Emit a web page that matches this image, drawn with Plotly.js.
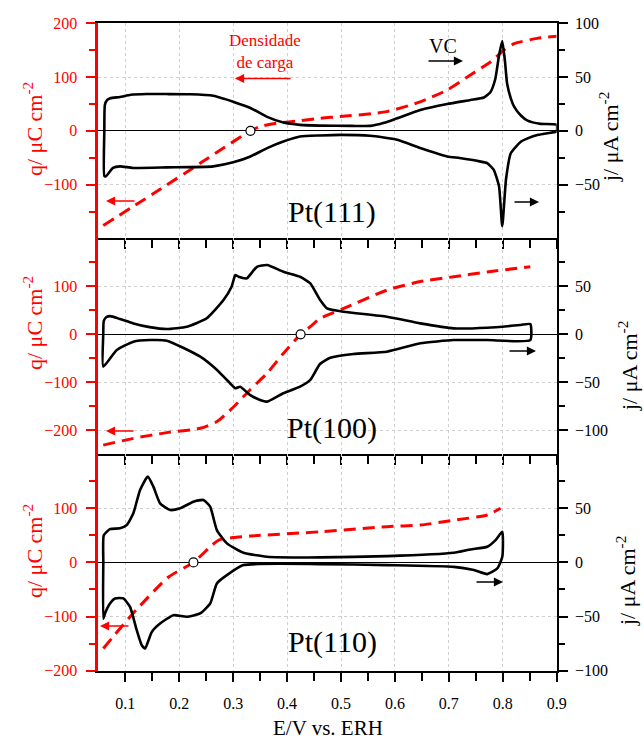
<!DOCTYPE html>
<html>
<head>
<meta charset="utf-8">
<script src="https://cdn.plot.ly/plotly-3.0.1.min.js"></script>
<style>html,body{margin:0;padding:0;background:#fff}#chart{width:644px;height:740px}</style>
</head>
<body>
<div id="chart"></div>
<script>
// ---------- DATA ----------
// Pt(111) voltammogram (closed loop: anodic then cathodic), j / µA cm^-2
const E111 = [0.061,0.061,0.062,0.066,0.072,0.09,0.11,0.14,0.177,0.22,0.263,0.285,0.30,0.332,0.363,0.393,0.424,0.461,0.52,0.554,0.58,0.604,0.647,0.697,0.74,0.765,0.777,0.786,0.793,0.799,0.804,0.808,0.815,0.821,0.834,0.846,0.87,0.9,
              0.9,0.885,0.866,0.846,0.834,0.815,0.806,0.799,0.793,0.783,0.771,0.757,0.72,0.697,0.647,0.604,0.554,0.5,0.461,0.424,0.393,0.363,0.332,0.30,0.263,0.177,0.114,0.09,0.077,0.064,0.061];
const J111 = [-42,0,24,28.5,30.3,31.5,33.5,34.2,34.2,34,32.7,29.5,27,21.3,13,7.7,5.6,4.9,4.6,4.6,7.5,11.7,19.4,25,28.7,31,36,48,70,83.6,65,44,30,22.5,14,9.5,6.5,5.6,
              -0.5,-2,-3.7,-7,-9.9,-20.6,-45,-88.6,-51.6,-36,-30,-28.4,-25.3,-23.8,-16,-8.3,-4.6,-3.7,-4.3,-5.3,-9.9,-16,-23.8,-29.3,-33,-34,-34.5,-33,-34.5,-42.3,-42];
// Pt(111) charge density, q / µC cm^-2
const E111q = [0.059,0.15,0.25,0.332,0.35,0.38,0.424,0.461,0.498,0.585,0.647,0.697,0.74,0.777,0.802,0.821,0.864,0.9];
const Q111  = [-176,-118,-53,0,8,14,19,23.5,26.5,35.7,54,76,104,128,150,162,172,176];

// Pt(100)
const E100 = [0.059,0.059,0.06,0.065,0.072,0.09,0.115,0.145,0.177,0.214,0.251,0.282,0.297,0.304,0.310,0.325,0.344,0.363,0.393,0.424,0.443,0.461,0.474,0.505,0.585,0.647,0.709,0.771,0.833,0.851,
              0.851,0.771,0.709,0.647,0.585,0.523,0.48,0.461,0.443,0.424,0.393,0.363,0.350,0.331,0.313,0.304,0.294,0.270,0.239,0.177,0.146,0.115,0.084,0.059];
const J100 = [-33.7,0,14,18,19,16,11.4,7.5,5.5,7.9,16.7,35.7,49.6,61.8,60,58.3,70.4,72.2,65.2,60,53.1,36,27,23.5,18.3,11.4,6.2,6.9,9.7,10.7,
              -6,-6,-6,-9.4,-18.1,-20.5,-24.5,-31,-47.6,-54.6,-61.5,-70.2,-68.4,-63.2,-54.6,-56.3,-51,-37.2,-23.3,-6.6,-6,-7.7,-16.4,-33.7];
const E100q = [0.059,0.115,0.177,0.239,0.270,0.301,0.331,0.363,0.393,0.425,0.443,0.461,0.505,0.585,0.647,0.709,0.771,0.851];
const Q100  = [-231,-217,-205,-196,-182,-151,-116,-81,-40,0,16,33,54,92,110,120,130,141];

// Pt(110)
const E110 = [0.0591,0.0591,0.060,0.0715,0.0901,0.1026,0.1148,0.1273,0.1416,0.152,0.1644,0.183,0.2016,0.2263,0.2448,0.2573,0.2697,0.2883,0.3191,0.3626,0.4616,0.5855,0.7092,0.740,0.7712,0.7866,0.7991,
              0.7991,0.7898,0.7712,0.7464,0.7092,0.5855,0.4616,0.3191,0.2883,0.2697,0.2573,0.2387,0.2139,0.189,0.1644,0.149,0.1366,0.1304,0.1211,0.1087,0.0963,0.0808,0.0715,0.0622,0.0591];
const J110 = [-52,0,25,30.8,31.5,34.5,45.4,67,79.3,70,54.6,48.4,50,56.1,57.7,51.5,29.9,17.6,8.9,5.2,4.6,5.8,8.9,12,14.5,20.6,28.3,
              5.2,-5.6,-10.8,-7.1,-4.1,-2.5,-1.6,-2.5,-11.8,-19.4,-38,-47.2,-50.3,-48.8,-56.5,-64.3,-79.6,-76.6,-62.7,-41.1,-33.3,-33.3,-38,-47.2,-52];
const E110q = [0.0591,0.12,0.18,0.2263,0.262,0.275,0.30,0.3316,0.4616,0.5855,0.647,0.7092,0.7712,0.7959];
const Q110  = [-159,-88,-27,0,33,42,46,48.7,56.7,66,69,78,87.6,100];

// potentials of zero charge (open circles), one per panel: 111, 100, 110
const pzcE = [0.332, 0.425, 0.2263];
const pzcQ = [0, 0, 0];

const panelLabels = ['Pt(111)', 'Pt(100)', 'Pt(110)'];
const xTickVals = [0.1,0.2,0.3,0.4,0.5,0.6,0.7,0.8,0.9];
const xTickText = ['0.1','0.2','0.3','0.4','0.5','0.6','0.7','0.8','0.9'];
const xMinorVals = [0.15,0.25,0.35,0.45,0.55,0.65,0.75,0.85];

// ---------- LAYOUT ----------
const W = 644, H = 740;
const FONT = '"Liberation Serif", "Times New Roman", serif';
const RED = '#ff0000';
const px = v => v / W;
const py = v => 1 - v / H;
const xDom = [px(98.4), px(556.7)];
const dom1 = [py(238.4), py(23.3)];
const dom2 = [py(454.2), py(238.4)];
const dom3 = [py(670.6), py(454.2)];

function xAxis(anchor, showLabels, mirror) {
  return {
    domain: xDom, anchor: anchor, range: [0.05, 0.9],
    showline: true, linecolor: '#000', linewidth: 2, mirror: mirror,
    ticks: 'outside', ticklen: 9, tickwidth: 2, tickcolor: '#000',
    tickmode: 'array', tickvals: xTickVals, ticktext: xTickText,
    showticklabels: showLabels, ticklabelstandoff: 8,
    tickfont: {family: FONT, size: 16, color: '#000'},
    showgrid: true, gridcolor: '#cfcfcf', griddash: 'dot', gridwidth: 1,
    zeroline: false,
    minor: {tickmode: 'array', tickvals: xMinorVals, ticks: 'outside', ticklen: 8, tickwidth: 2, tickcolor: '#000', showgrid: false}
  };
}
function leftAxis(anchorX, dom, range, tv, mv) {
  return {
    domain: dom, anchor: anchorX, range: range, side: 'left',
    showline: true, linecolor: RED, linewidth: 3,
    ticks: 'outside', ticklen: 9, tickwidth: 2, tickcolor: RED,
    tickmode: 'array', tickvals: tv, ticklabelstandoff: 6,
    tickfont: {family: FONT, size: 16, color: RED},
    showgrid: true, gridcolor: '#cfcfcf', griddash: 'dot', gridwidth: 1,
    zeroline: true, zerolinecolor: '#000', zerolinewidth: 1.2,
    minor: {tickmode: 'array', tickvals: mv, ticks: 'outside', ticklen: 6, tickwidth: 2, tickcolor: RED, showgrid: false}
  };
}
function rightAxis(anchorX, over, range, tv, mv) {
  return {
    overlaying: over, anchor: anchorX, range: range, side: 'right',
    showline: true, linecolor: '#000', linewidth: 2,
    ticks: 'outside', ticklen: 9, tickwidth: 2, tickcolor: '#000',
    tickmode: 'array', tickvals: tv, ticklabelstandoff: 4,
    tickfont: {family: FONT, size: 16, color: '#000'},
    showgrid: false, zeroline: false,
    minor: {tickmode: 'array', tickvals: mv, ticks: 'outside', ticklen: 6, tickwidth: 2, tickcolor: '#000', showgrid: false}
  };
}

const blackLine = {color: '#000', width: 2.6, shape: 'spline', smoothing: 0.5};
const redLine = {color: RED, width: 3, dash: '12px,7px', shape: 'spline', smoothing: 0.6};
const circ = {size: 9, color: '#fff', line: {color: '#000', width: 1.2}};

const data = [
  {x: E111q, y: Q111, xaxis: 'x', yaxis: 'y', mode: 'lines', line: redLine, hoverinfo: 'skip'},
  {x: E111, y: J111, xaxis: 'x', yaxis: 'y2', mode: 'lines', line: blackLine, hoverinfo: 'skip'},
  {x: [pzcE[0]], y: [pzcQ[0]], xaxis: 'x', yaxis: 'y2', mode: 'markers', marker: circ, hoverinfo: 'skip'},

  {x: E100q, y: Q100, xaxis: 'x2', yaxis: 'y3', mode: 'lines', line: redLine, hoverinfo: 'skip'},
  {x: E100, y: J100, xaxis: 'x2', yaxis: 'y4', mode: 'lines', line: blackLine, hoverinfo: 'skip'},
  {x: [pzcE[1]], y: [pzcQ[1]], xaxis: 'x2', yaxis: 'y4', mode: 'markers', marker: circ, hoverinfo: 'skip'},

  {x: E110q, y: Q110, xaxis: 'x3', yaxis: 'y5', mode: 'lines', line: redLine, hoverinfo: 'skip'},
  {x: E110, y: J110, xaxis: 'x3', yaxis: 'y6', mode: 'lines', line: blackLine, hoverinfo: 'skip'},
  {x: [pzcE[2]], y: [pzcQ[2]], xaxis: 'x3', yaxis: 'y6', mode: 'markers', marker: circ, hoverinfo: 'skip'}
];

function txt(text, x, y, size, color, angle) {
  return {text: text, xref: 'paper', yref: 'paper', x: px(x), y: py(y), xanchor: 'center', yanchor: 'middle',
          showarrow: false, textangle: angle || 0, font: {family: FONT, size: size, color: color}};
}
function arrow(x1, y1, x0, y0, color) { // head at (x1,y1), tail at (x0,y0), pixel coords
  return {text: '', xref: 'paper', yref: 'paper', x: px(x1), y: py(y1), ax: x0 - x1, ay: y0 - y1,
          axref: 'pixel', ayref: 'pixel', showarrow: true, arrowhead: 2, arrowsize: 1.4, arrowwidth: 1.3, arrowcolor: color};
}

const qTitle = 'q/ \u03bcC cm<sup>-2</sup>';
const jTitle = 'j/ \u03bcA cm<sup>-2</sup>';

const annotations = [
  txt(qTitle, 33, 129, 22, RED, -90),
  txt(qTitle, 33, 323, 22, RED, -90),
  txt(qTitle, 33, 551, 22, RED, -90),
  txt(jTitle, 609, 137, 22, '#000', -90),
  txt(jTitle, 628, 366, 22, '#000', -90),
  txt(jTitle, 626, 581, 22, '#000', -90),
  txt('E/V vs. ERH', 328, 728, 21, '#000'),
  txt(panelLabels[0], 332, 212, 30, '#000'),
  txt(panelLabels[1], 332, 428, 30, '#000'),
  txt(panelLabels[2], 332, 642, 30, '#000'),
  txt('Densidade<br>de carga', 265, 52, 17, RED),
  txt('VC', 443, 46, 20, '#000'),
  arrow(235, 78.5, 292, 78.5, RED),
  arrow(463, 61, 427, 61, '#000'),
  arrow(106, 201, 136, 201, RED),
  arrow(539, 202, 513, 202, '#000'),
  arrow(106, 431, 135, 431, RED),
  arrow(536, 351, 508, 351, '#000'),
  arrow(100, 626, 130, 626, RED),
  arrow(503, 582, 475, 582, '#000')
];

const layout = {
  width: W, height: H,
  margin: {l: 0, r: 0, t: 0, b: 0},
  paper_bgcolor: '#fff', plot_bgcolor: 'rgba(0,0,0,0)',
  showlegend: false,
  font: {family: FONT},
  xaxis: xAxis('y', false, true),
  xaxis2: xAxis('y3', false, false),
  xaxis3: xAxis('y5', true, false),
  yaxis: leftAxis('x', dom1, [-200, 200], [-100, 0, 100, 200], [-150, -50, 50, 150]),
  yaxis2: rightAxis('x', 'y', [-100, 100], [-50, 0, 50, 100], [-75, -25, 25, 75]),
  yaxis3: leftAxis('x2', dom2, [-250, 200], [-200, -100, 0, 100], [-150, -50, 50, 150]),
  yaxis4: rightAxis('x2', 'y3', [-125, 100], [-100, -50, 0, 50], [-75, -25, 25, 75]),
  yaxis5: leftAxis('x3', dom3, [-200, 200], [-200, -100, 0, 100], [-150, -50, 50, 150]),
  yaxis6: rightAxis('x3', 'y5', [-100, 100], [-100, -50, 0, 50], [-75, -25, 25, 75]),
  annotations: annotations
};

Plotly.newPlot('chart', data, layout, {staticPlot: true, displayModeBar: false});
</script>
</body>
</html>
